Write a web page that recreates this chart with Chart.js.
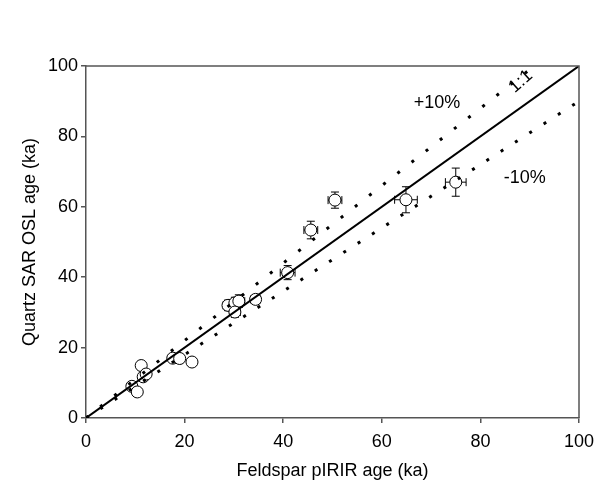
<!DOCTYPE html>
<html>
<head>
<meta charset="utf-8">
<script src="https://cdn.jsdelivr.net/npm/chart.js@4"></script>
<style>
  body { margin: 0; background: #fff; }
  #wrap { width: 598px; height: 487px; }
</style>
</head>
<body>
<div id="wrap"><canvas id="ages"></canvas></div>
<script>
// feldspar pIRIR vs quartz SAR OSL ages (ka)
var feldsparAge = [9.3, 10.4, 11.2, 11.6, 12.2, 17.6, 19.0, 21.5, 28.8, 30.2, 31.0, 30.2, 34.4, 40.9, 45.6, 50.5, 64.9, 75.0];
var quartzAge   = [9.0, 7.4, 14.9, 11.7, 12.5, 17.0, 16.9, 15.9, 32.0, 32.7, 33.2, 30.1, 33.7, 41.3, 53.4, 61.9, 62.0, 67.0];
var feldsparErr = [0.4, 0.4, 0.5, 0.5, 0.5, 0.7, 0.7, 0.8, 1.0, 1.2, 1.2, 1.1, 1.0, 1.5, 1.4, 1.4, 2.3, 2.1];
var quartzErr   = [0.5, 0.4, 0.8, 0.6, 0.6, 0.8, 0.8, 0.8, 1.5, 1.6, 1.8, 1.5, 1.2, 2.0, 2.5, 2.3, 3.7, 4.0];

var oneToOne  = [{x: 0, y: 0}, {x: 100, y: 100}];
var plusTen   = [{x: 0, y: 0}, {x: 100 / 1.1, y: 100}];
var minusTen  = [{x: 0, y: 0}, {x: 100, y: 90}];

var lineLabels = [
    {text: '+10%', x: 71.2, y: 89.4, rot: 0},
    {text: '-10%', x: 89.0, y: 68.2, rot: 0},
    {text: '1:1', x: 88.2, y: 95.6, rot: -42}
];

var points = feldsparAge.map(function (v, i) { return {x: v, y: quartzAge[i]}; });

var FONT = 'Liberation Sans, Arial, sans-serif';

var errorBars = {
    id: 'errorBars',
    beforeDatasetsDraw: function (chart) {
        var c = chart.ctx, xs = chart.scales.x, ys = chart.scales.y;
        c.save();
        c.strokeStyle = '#000';
        c.lineWidth = 1;
        for (var i = 0; i < feldsparAge.length; i++) {
            var px = xs.getPixelForValue(feldsparAge[i]);
            var py = ys.getPixelForValue(quartzAge[i]);
            var x0 = xs.getPixelForValue(feldsparAge[i] - feldsparErr[i]);
            var x1 = xs.getPixelForValue(feldsparAge[i] + feldsparErr[i]);
            var y0 = ys.getPixelForValue(quartzAge[i] - quartzErr[i]);
            var y1 = ys.getPixelForValue(quartzAge[i] + quartzErr[i]);
            c.beginPath();
            c.moveTo(x0, py); c.lineTo(x1, py);
            c.moveTo(x0, py - 4); c.lineTo(x0, py + 4);
            c.moveTo(x1, py - 4); c.lineTo(x1, py + 4);
            c.moveTo(px, y0); c.lineTo(px, y1);
            c.moveTo(px - 4, y0); c.lineTo(px + 4, y0);
            c.moveTo(px - 4, y1); c.lineTo(px + 4, y1);
            c.stroke();
        }
        c.restore();
    },
    afterDraw: function (chart) {
        var c = chart.ctx, a = chart.chartArea, xs = chart.scales.x, ys = chart.scales.y;
        c.save();
        // frame top and right
        c.strokeStyle = '#555';
        c.lineWidth = 1.5;
        c.beginPath();
        c.moveTo(a.left, a.top); c.lineTo(a.right, a.top); c.lineTo(a.right, a.bottom);
        c.stroke();
        c.fillStyle = '#000';
        c.font = '18px ' + FONT;
        c.textAlign = 'center';
        c.textBaseline = 'middle';
        lineLabels.forEach(function (l) {
            c.save();
            c.translate(xs.getPixelForValue(l.x), ys.getPixelForValue(l.y));
            c.rotate(l.rot * Math.PI / 180);
            c.fillText(l.text, 0, 0);
            c.restore();
        });
        c.restore();
    }
};

new Chart(document.getElementById('ages'), {
    type: 'scatter',
    data: {
        datasets: [
            {
                label: '+10%', data: plusTen, showLine: true, pointRadius: 0,
                borderColor: '#000', borderWidth: 3, borderDash: [3, 15], borderCapStyle: 'butt'
            },
            {
                label: '-10%', data: minusTen, showLine: true, pointRadius: 0,
                borderColor: '#000', borderWidth: 3, borderDash: [3, 14], borderCapStyle: 'butt'
            },
            {
                label: '1:1', data: oneToOne, showLine: true, pointRadius: 0,
                borderColor: '#000', borderWidth: 2
            },
            {
                label: 'samples', data: points, pointRadius: 6, pointHoverRadius: 6,
                pointBackgroundColor: '#fff', pointBorderColor: '#000', pointBorderWidth: 1
            }
        ]
    },
    options: {
        responsive: true,
        maintainAspectRatio: false,
        animation: false,
        layout: { padding: { top: 66, right: 19, left: 0, bottom: 0 } },
        plugins: { legend: { display: false }, tooltip: { enabled: false } },
        scales: {
            x: {
                min: 0, max: 100,
                afterFit: function (s) { s.height = 69; s.paddingLeft = 0; s.paddingRight = 0; },
                border: { color: '#555', width: 1.5 },
                grid: { drawOnChartArea: false, tickLength: 5, color: '#555', lineWidth: 1.5 },
                ticks: { stepSize: 20, color: '#000', padding: 8, font: { family: FONT, size: 18 } },
                title: {
                    display: true, text: 'Feldspar pIRIR age (ka)', color: '#000',
                    font: { family: FONT, size: 18 }, padding: { top: 4, bottom: 5 }
                }
            },
            y: {
                min: 0, max: 100,
                afterFit: function (s) { s.width = 86; s.paddingTop = 0; s.paddingBottom = 0; },
                border: { color: '#555', width: 1.5 },
                grid: { drawOnChartArea: false, tickLength: 5, color: '#555', lineWidth: 1.5 },
                ticks: { stepSize: 20, color: '#000', padding: 3, font: { family: FONT, size: 18 } },
                title: {
                    display: true, text: 'Quartz SAR OSL age (ka)', color: '#000',
                    font: { family: FONT, size: 18 }, padding: { top: 19, bottom: 4 }
                }
            }
        }
    },
    plugins: [errorBars]
});
</script>
</body>
</html>
